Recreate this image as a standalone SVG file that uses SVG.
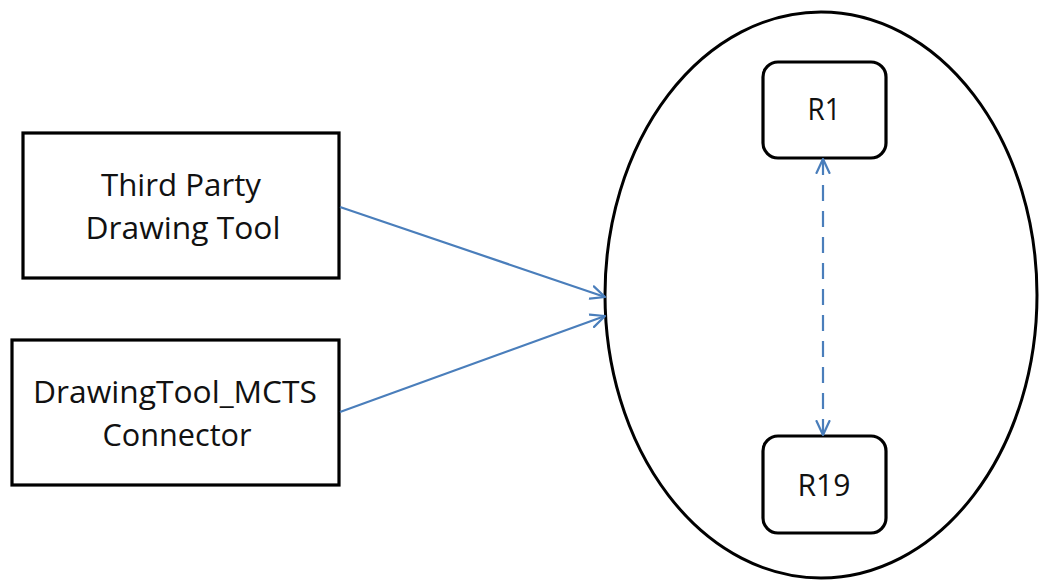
<svg xmlns="http://www.w3.org/2000/svg" width="1039" height="582" viewBox="0 0 1039 582">
  <style>
    .box { fill: #ffffff; stroke: #000000; stroke-width: 3.2; }
    .lbl { font-family: "Open Sans", "Noto Sans", "DejaVu Sans", sans-serif; font-size: 31px; fill: #111111; text-anchor: middle; }
    .conn { stroke: #4a7ebb; stroke-width: 2.2; fill: none; }
    .dash { stroke-dasharray: 16 10; }
  </style>
  <defs>
    <marker id="arr" viewBox="0 0 16 16" refX="15" refY="8" markerWidth="16" markerHeight="16" markerUnits="userSpaceOnUse" orient="auto-start-reverse">
      <path d="M1,1.5 L15,8 L1,14.5" fill="none" stroke="#4a7ebb" stroke-width="2.2" stroke-linecap="round" stroke-linejoin="round"/>
    </marker>
  </defs>
  <rect width="1039" height="582" fill="#ffffff"/>

  <g id="group-ellipse">
    <ellipse cx="821" cy="295" rx="216" ry="283" fill="#ffffff" stroke="#000000" stroke-width="3"/>
  </g>

  <g id="node-third-party">
    <rect class="box" x="23" y="133" width="316" height="145"/>
    <text class="lbl" x="181" y="196" textLength="160" lengthAdjust="spacingAndGlyphs">Third Party</text>
    <text class="lbl" x="183" y="239" textLength="195" lengthAdjust="spacingAndGlyphs">Drawing Tool</text>
  </g>

  <g id="node-connector">
    <rect class="box" x="12" y="340" width="327" height="145"/>
    <text class="lbl" x="175" y="403" textLength="284" lengthAdjust="spacingAndGlyphs">DrawingTool_MCTS</text>
    <text class="lbl" x="177" y="446" textLength="149" lengthAdjust="spacingAndGlyphs">Connector</text>
  </g>

  <g id="node-r1">
    <rect class="box" x="763" y="62" width="123" height="96" rx="15" ry="15"/>
    <text class="lbl" x="824" y="120" textLength="33" lengthAdjust="spacingAndGlyphs">R1</text>
  </g>

  <g id="node-r19">
    <rect class="box" x="763" y="436" width="123" height="97" rx="15" ry="15"/>
    <text class="lbl" x="824" y="496" textLength="53" lengthAdjust="spacingAndGlyphs">R19</text>
  </g>

  <g id="connectors">
    <line class="conn" x1="340" y1="207" x2="605" y2="297" marker-end="url(#arr)"/>
    <line class="conn" x1="340" y1="412" x2="605" y2="316" marker-end="url(#arr)"/>
    <line class="conn dash" x1="823" y1="159" x2="823" y2="435" marker-start="url(#arr)" marker-end="url(#arr)"/>
  </g>
</svg>
